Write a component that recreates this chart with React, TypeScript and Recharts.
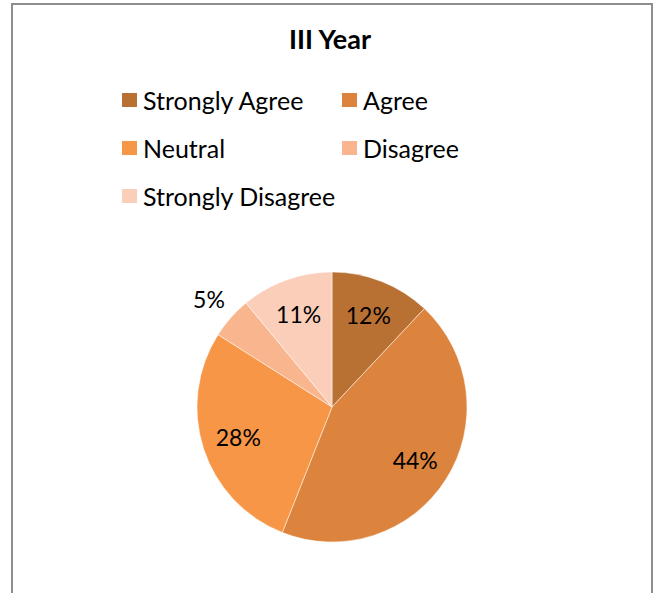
import { PieChart, Pie, Cell } from 'recharts';

const categories = ['Strongly Agree', 'Agree', 'Neutral', 'Disagree', 'Strongly Disagree'];
const shares = [12, 44, 28, 5, 11];
const colors = ['#B97133', '#DC843D', '#F79646', '#F8B58E', '#FBCEB9'];

const data = categories.map((name, i) => ({ name, value: shares[i] }));

const FONT = 'Lato, "Open Sans", sans-serif';
const RADIAN = Math.PI / 180;

const renderLabel = (props: any) => {
  const { cx, cy, midAngle, outerRadius, percent } = props;
  // thin slices get their label pushed outside, like Excel's best fit
  const r = percent < 0.08 ? outerRadius + 29 : outerRadius * 0.73;
  const x = cx + r * Math.cos(-midAngle * RADIAN);
  const y = cy + r * Math.sin(-midAngle * RADIAN);
  return (
    <text
      x={x}
      y={y}
      fill="#000"
      textAnchor="middle"
      dominantBaseline="central"
      style={{ fontFamily: FONT, fontSize: 23 }}
    >
      {`${Math.round(percent * 100)}%`}
    </text>
  );
};

function ChartLegend() {
  return (
    <div
      style={{
        position: 'absolute',
        left: 122,
        top: 86,
        display: 'grid',
        gridTemplateColumns: '220px 200px',
        rowGap: 20,
        fontFamily: FONT,
        fontSize: 25,
        color: '#000',
      }}
    >
      {categories.map((name, i) => (
        <div key={`leg-${i}`} style={{ display: 'flex', alignItems: 'center', height: 28 }}>
          <span
            style={{
              display: 'inline-block',
              width: 15,
              height: 14,
              background: colors[i],
              marginRight: 6,
            }}
          />
          <span>{name}</span>
        </div>
      ))}
    </div>
  );
}

export default function App() {
  return (
    <div style={{ position: 'relative', width: 656, height: 593, overflow: 'hidden', background: '#fff' }}>
      <style>{'body{margin:0}'}</style>
      <div
        style={{
          position: 'absolute',
          left: 11,
          top: 3,
          width: 638,
          height: 640,
          border: '2px solid #8e8e8e',
        }}
      />
      <div
        style={{
          position: 'absolute',
          left: 0,
          width: 656,
          top: 22,
          textAlign: 'center',
          fontFamily: FONT,
          fontWeight: 700,
          fontSize: 27,
          paddingLeft: 2,
        }}
      >
        III Year
      </div>
      <ChartLegend />
      <PieChart
        width={656}
        height={593}
        margin={{ top: 0, right: 0, bottom: 0, left: 0 }}
        style={{ position: 'absolute', left: 0, top: 0 }}
      >
        <Pie
          data={data}
          dataKey="value"
          nameKey="name"
          cx={332}
          cy={407}
          outerRadius={135}
          startAngle={90}
          endAngle={-270}
          stroke="#fff"
          strokeWidth={0.5}
          labelLine={false}
          label={renderLabel}
          isAnimationActive={false}
        >
          {data.map((entry, index) => (
            <Cell key={`cell-${index}`} fill={colors[index]} />
          ))}
        </Pie>
      </PieChart>
    </div>
  );
}
